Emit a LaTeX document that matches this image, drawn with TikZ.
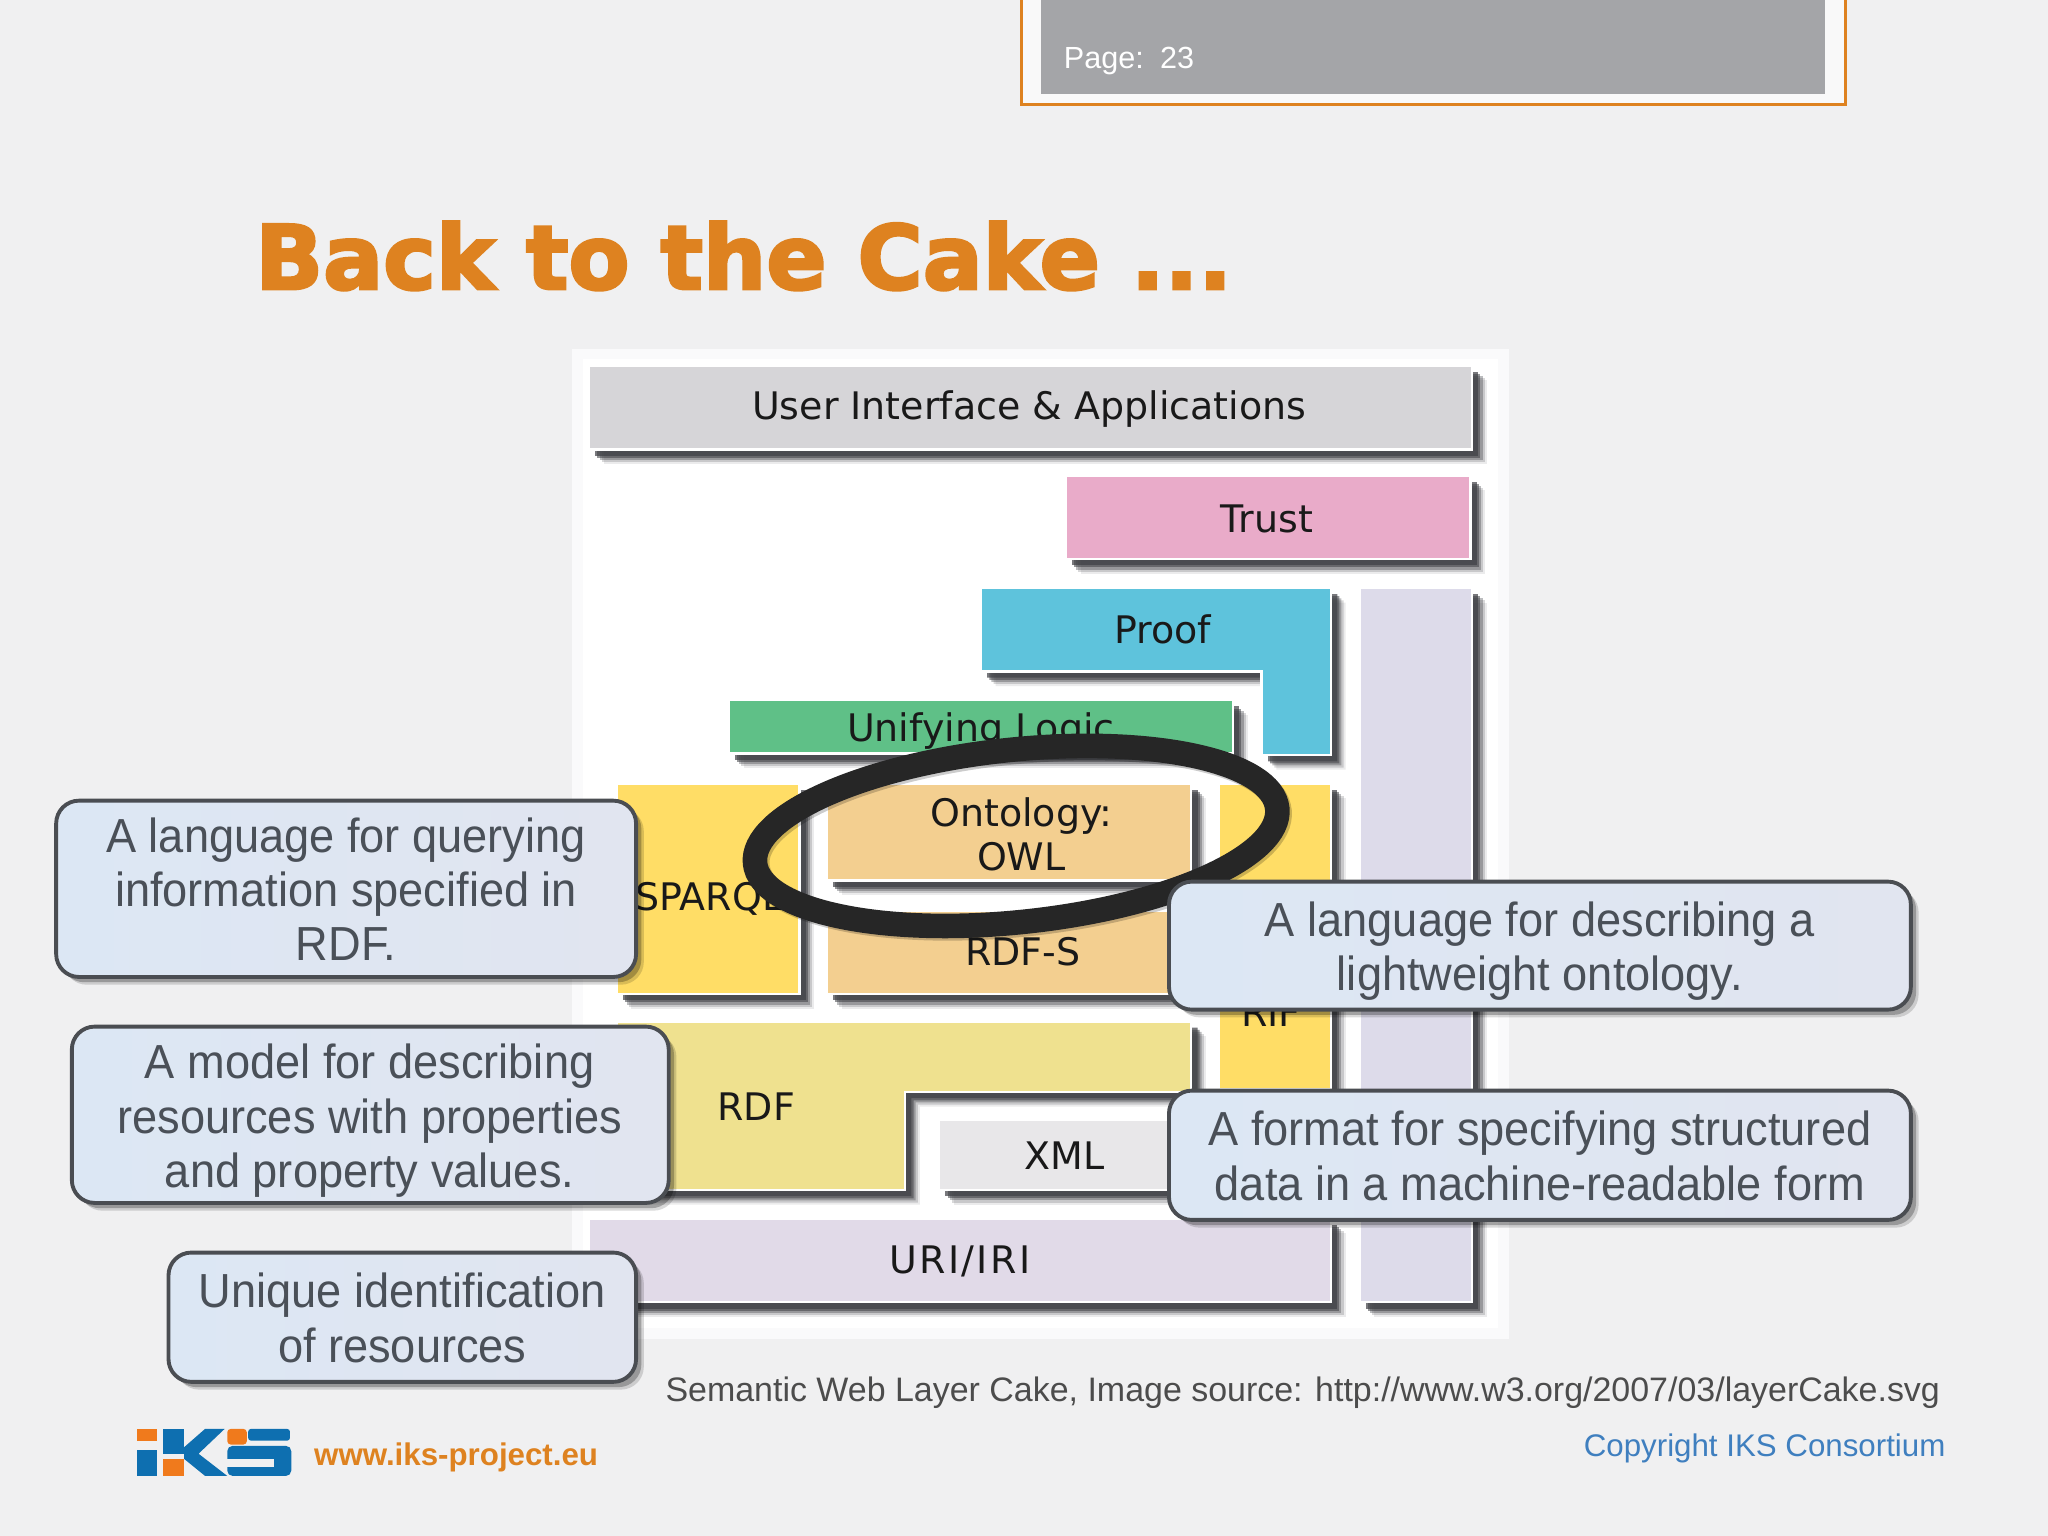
\documentclass[tikz,border=0pt]{standalone}
\usepackage{fontspec}
\setmainfont{Liberation Sans}
\newfontfamily\cakefont{DejaVu Sans}
\newfontfamily\titlefont[FakeBold=3]{DejaVu Sans Bold}
\newfontfamily\calloutfont[FakeStretch=0.945]{Liberation Sans}
\usetikzlibrary{shadows}
\definecolor{pagebg}{HTML}{F0F0F1}
\definecolor{ikscolor}{HTML}{DE8220}
\definecolor{iksblue}{HTML}{0E6FB0}
\definecolor{iksorange}{HTML}{F07A1C}
\definecolor{linkblue}{HTML}{3F7FBF}
\definecolor{calloutline}{HTML}{4A4D52}
\definecolor{callouttext}{HTML}{4A5058}
\definecolor{calloutleft}{HTML}{DCE7F4}
\definecolor{calloutright}{HTML}{E1E5F0}
\definecolor{shadowgray}{HTML}{3F4045}
\definecolor{pagegray}{HTML}{A4A5A8}
\tikzset{
    layer/.style={draw=white,line width=0.7pt,
            drop shadow={shadow xshift=4.2pt,shadow yshift=-4.2pt,opacity=0.1,fill=shadowgray},
            drop shadow={shadow xshift=3.6pt,shadow yshift=-3.6pt,opacity=0.2,fill=shadowgray},
            drop shadow={shadow xshift=3pt,shadow yshift=-3pt,opacity=0.35,fill=shadowgray},
            drop shadow={shadow xshift=2.4pt,shadow yshift=-2.4pt,opacity=0.55,fill=shadowgray},
            drop shadow={shadow xshift=1.8pt,shadow yshift=-1.8pt,opacity=0.7,fill=shadowgray}},
    layertext/.style={font=\cakefont\fontsize{10.8pt}{12.6pt}\selectfont,text=black!90,align=center,inner sep=0pt},
    callout/.style={draw=calloutline,line width=1.1pt,left color=calloutleft,right color=calloutright,rounded corners=6.5pt,
            drop shadow={shadow xshift=2.2pt,shadow yshift=-2.2pt,opacity=0.15,fill=black},
            drop shadow={shadow xshift=1.5pt,shadow yshift=-1.5pt,opacity=0.25,fill=black}},
    callouttxt/.style={font=\calloutfont\fontsize{13.6pt}{15.4pt}\selectfont,text=callouttext,align=center,inner sep=0pt},
}
\begin{document}
\begin{tikzpicture}[x=0.0130612cm,y=-0.0130612cm]
        \useasboundingbox (0,0) rectangle (1568,1176);
        \fill[pagebg] (0,0) rectangle (1568,1176);

        % page frame on top
        \fill[white!60!pagebg] (782,0) rectangle (1413,80);
        \draw[ikscolor,line width=1pt] (782,0) -- (782,80) -- (1413,80) -- (1413,0);
        \fill[pagegray] (797,0) rectangle (1397,72);
        \node[right,inner sep=0pt,text=white,font=\fontsize{8.7pt}{11pt}\selectfont] (pagenum) at (814,47) {Page:\, 23};

        \node[right,inner sep=0pt,text=ikscolor,font=\titlefont\fontsize{25.3pt}{30pt}\selectfont] (title) at (195,196) {Back to the Cake ...};

        % the cake
        \fill[white!70!pagebg] (438,267) rectangle (1155,1025);
        \fill[white] (446,275) rectangle (1147,1017);

        \draw[layer,fill={rgb,255:red,214;green,213;blue,216}] (451,280) rectangle (1127,344);
        \draw[layer,fill={rgb,255:red,233;green,171;blue,201}] (816,364) rectangle (1126,428);
        \draw[layer,fill={rgb,255:red,221;green,219;blue,234}] (1041,450) rectangle (1127,997);
        \draw[layer,fill={rgb,255:red,94;green,195;blue,220}] (751,450) -- (1019,450) -- (1019,578) -- (966,578) -- (966,514) -- (751,514) -- cycle;
        \draw[layer,fill={rgb,255:red,95;green,192;blue,135}] (558,536) rectangle (944,577);
        \draw[layer,fill={rgb,255:red,255;green,221;blue,102}] (472,600) rectangle (612,761);
        \draw[layer,fill={rgb,255:red,243;green,207;blue,144}] (633,600) rectangle (912,674);
        \draw[layer,fill={rgb,255:red,243;green,207;blue,144}] (633,697) rectangle (912,761);
        \draw[layer,fill={rgb,255:red,255;green,221;blue,102}] (933,600) rectangle (1019,834);
        \draw[layer,fill={rgb,255:red,239;green,225;blue,143}] (472,782) -- (912,782) -- (912,836) -- (693,836) -- (693,911) -- (472,911) -- cycle;
        \draw[layer,fill={rgb,255:red,232;green,231;blue,233}] (719,857) rectangle (912,911);
        \draw[layer,fill={rgb,255:red,225;green,218;blue,232}] (451,933) rectangle (1019,997);

        \node[layertext] (uilabel) at (788,313) {User Interface \& Applications};
        \node[layertext] (trustlabel) at (970,397) {Trust};
        \node[layertext] (prooflabel) at (890,482) {Proof};
        \node[layertext] (logiclabel) at (751,560) {Unifying Logic};
        \node[layertext] (sparqllabel) at (543,688) {SPARQL};
        \node[layertext] (owllabel) at (782,639) {Ontology:\\OWL};
        \node[layertext] (rdfslabel) at (783,729) {RDF-S};
        \node[layertext] (riflabel) at (973,775) {RIF};
        \node[layertext] (rdflabel) at (579,847) {RDF};
        \node[layertext] (xmllabel) at (815,885) {XML};
        \node[layertext] (urilabel) at (735,966) {\addfontfeature{LetterSpace=6}URI/IRI};

        % hand drawn ring
        \draw[black,opacity=0.2,line width=7pt,rotate around={6:(778,640)}] (779.5,642) ellipse[x radius=201,y radius=66];
        \draw[black!85,line width=7pt,rotate around={6:(778,640)}] (778,640) ellipse[x radius=201,y radius=66];

        % callouts
        \draw[callout] (43,613) rectangle (487,748);
        \node[callouttxt] (querytxt) at (265,681) {A language for querying\\information specified in\\RDF.};
        \draw[callout] (55,786) rectangle (512,921);
        \node[callouttxt] (modeltxt) at (283,858) {A model for describing\\resources with properties\\and property values.};
        \draw[callout] (129,959) rectangle (487,1058);
        \node[callouttxt] (uniquetxt) at (308,1009) {Unique identification\\of resources};
        \draw[callout] (895,675) rectangle (1463,773);
        \node[callouttxt] (lighttxt) at (1179,728) {A language for describing a\\lightweight ontology.};
        \draw[callout] (895,835) rectangle (1463,934);
        \node[callouttxt] (formattxt) at (1179,885) {A format for specifying structured\\data in a machine-readable form};

        % footer
        \node[right,inner sep=0pt,text=black!70,font=\fontsize{9.66pt}{12pt}\selectfont] (source) at (509,1066) {Semantic Web Layer Cake, Image source: http://www.w3.org/2007/03/layerCake.svg};
        \node[left,inner sep=0pt,text=linkblue,font=\fontsize{8.9pt}{11pt}\selectfont] (copyright) at (1490,1109) {Copyright IKS Consortium};
        \node[right,inner sep=0pt,text=ikscolor,font=\bfseries\fontsize{8.9pt}{11pt}\selectfont] (website) at (240,1116) {www.iks-project.eu};

        % logo
        \fill[iksorange] (105,1094) rectangle (120,1103);
        \fill[iksblue] (105,1110) rectangle (120,1130);
        \fill[iksblue] (125,1094) rectangle (141,1113);
        \fill[iksorange] (125,1117) rectangle (141,1130);
        \fill[iksblue] (141,1108) -- (157,1094) -- (172,1094) -- (152,1113) -- (174,1130) -- (157,1130) -- (141,1117) -- cycle;
        \fill[iksorange,rounded corners=1pt] (174,1106) -- (174,1094) -- (189,1094) -- (189,1106) -- cycle;
        \fill[iksblue,rounded corners=0.8pt] (190,1094) rectangle (222,1103);
        \fill[iksblue,rounded corners=1.5pt] (174,1107) rectangle (223,1130);
        \fill[pagebg] (174,1117) rectangle (210,1123);
    \end{tikzpicture}
\end{document}
